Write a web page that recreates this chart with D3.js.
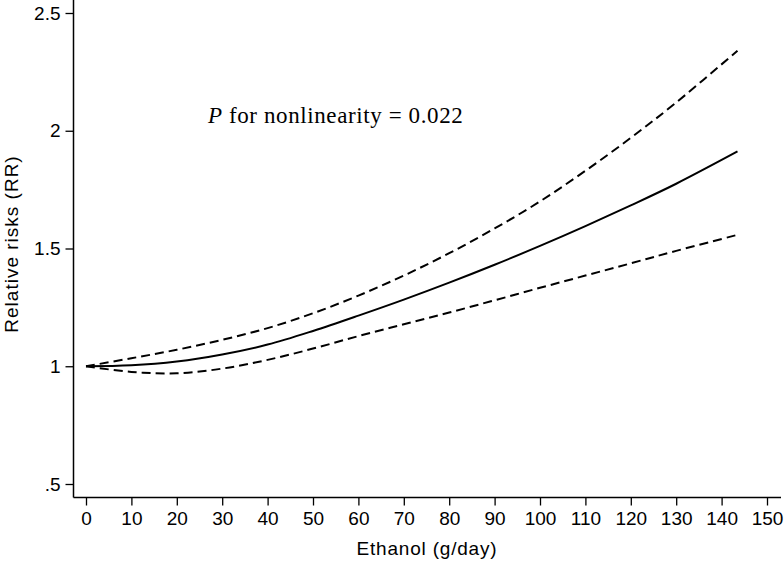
<!DOCTYPE html>
<html>
<head>
<meta charset="utf-8">
<script src="https://cdn.jsdelivr.net/npm/d3@7"></script>
<style>
  html, body { margin: 0; padding: 0; background: #fff; }
  svg { display: block; }
</style>
</head>
<body>
<div id="chart"></div>
<script>
/* Dose-response: ethanol intake vs relative risk (spline fit + 95% CI) */
var ethanol = [0, 10, 20, 30, 40, 50, 60, 70, 80, 90, 100, 110, 120, 130, 143.5];
var rrFit   = [1, 1.004, 1.020, 1.050, 1.092, 1.150, 1.215, 1.283, 1.355, 1.431, 1.511, 1.595, 1.683, 1.775, 1.912];
var rrUpper = [1, 1.034, 1.070, 1.112, 1.162, 1.225, 1.300, 1.385, 1.480, 1.585, 1.700, 1.830, 1.970, 2.120, 2.340];
var rrLower = [1, 0.976, 0.970, 0.990, 1.027, 1.075, 1.128, 1.178, 1.228, 1.280, 1.333, 1.385, 1.437, 1.490, 1.558];

var xTicks = [0, 10, 20, 30, 40, 50, 60, 70, 80, 90, 100, 110, 120, 130, 140, 150];
var yTicks = [0.5, 1, 1.5, 2, 2.5];
var yTickLabels = [".5", "1", "1.5", "2", "2.5"];

(function () {
  "use strict";

  var W = 784, H = 561;
  var sans = "'Liberation Sans', Arial, sans-serif";

  var svg = d3.select("#chart").append("svg").attr("width", W).attr("height", H);

  var x = d3.scaleLinear().domain([0, 150]).range([86, 767]);
  var y = d3.scaleLinear().domain([0.5, 2.5]).range([484, 13]);

  var axisX = 73.5, axisY = 497.5;

  // X axis
  var gx = svg.append("g").attr("transform", "translate(0," + axisY + ")")
    .call(d3.axisBottom(x).tickValues(xTicks).tickSize(8).tickPadding(6.5).tickFormat(d3.format("d")));
  gx.select(".domain").remove();
  gx.append("line").attr("x1", axisX).attr("x2", 781).attr("stroke", "#000").attr("stroke-width", 1.5);

  // Y axis
  var gy = svg.append("g").attr("transform", "translate(" + axisX + ",0)")
    .call(d3.axisLeft(y).tickValues(yTicks).tickSize(8).tickPadding(5)
      .tickFormat(function (d, i) { return yTickLabels[i]; }));
  gy.select(".domain").remove();
  gy.append("line").attr("y1", 0).attr("y2", axisY).attr("stroke", "#000").attr("stroke-width", 1.5);

  svg.selectAll(".tick line").attr("stroke", "#000").attr("stroke-width", 1.3);
  svg.selectAll(".tick text").attr("fill", "#000")
    .style("font-family", sans).style("font-size", "19px");

  // Curves
  var rows = ethanol.map(function (e, i) {
    return { e: e, fit: rrFit[i], hi: rrUpper[i], lo: rrLower[i] };
  });
  function lineFor(key) {
    return d3.line()
      .x(function (d) { return x(d.e); })
      .y(function (d) { return y(d[key]); })
      .curve(d3.curveCatmullRom.alpha(0.5));
  }

  svg.append("path").datum(rows).attr("fill", "none").attr("stroke", "#000")
    .attr("stroke-width", 2).attr("stroke-dasharray", "9,5").attr("d", lineFor("hi"));
  svg.append("path").datum(rows).attr("fill", "none").attr("stroke", "#000")
    .attr("stroke-width", 2).attr("stroke-dasharray", "9,5").attr("d", lineFor("lo"));
  svg.append("path").datum(rows).attr("fill", "none").attr("stroke", "#000")
    .attr("stroke-width", 2).attr("d", lineFor("fit"));

  // Axis titles
  svg.append("text").attr("x", 427).attr("y", 555).attr("text-anchor", "middle")
    .style("font-family", sans).style("font-size", "19px").style("letter-spacing", "0.8px")
    .text("Ethanol (g/day)");
  svg.append("text").attr("transform", "translate(18,244) rotate(-90)").attr("text-anchor", "middle")
    .style("font-family", sans).style("font-size", "19px").style("letter-spacing", "1px")
    .text("Relative risks (RR)");

  // Annotation
  var note = svg.append("text").attr("x", 208).attr("y", 123)
    .style("font-family", "'Liberation Serif', 'Times New Roman', serif")
    .style("font-size", "23px").style("letter-spacing", "0.6px");
  note.append("tspan").style("font-style", "italic").text("P");
  note.append("tspan").text(" for nonlinearity = 0.022");
})();
</script>
</body>
</html>
